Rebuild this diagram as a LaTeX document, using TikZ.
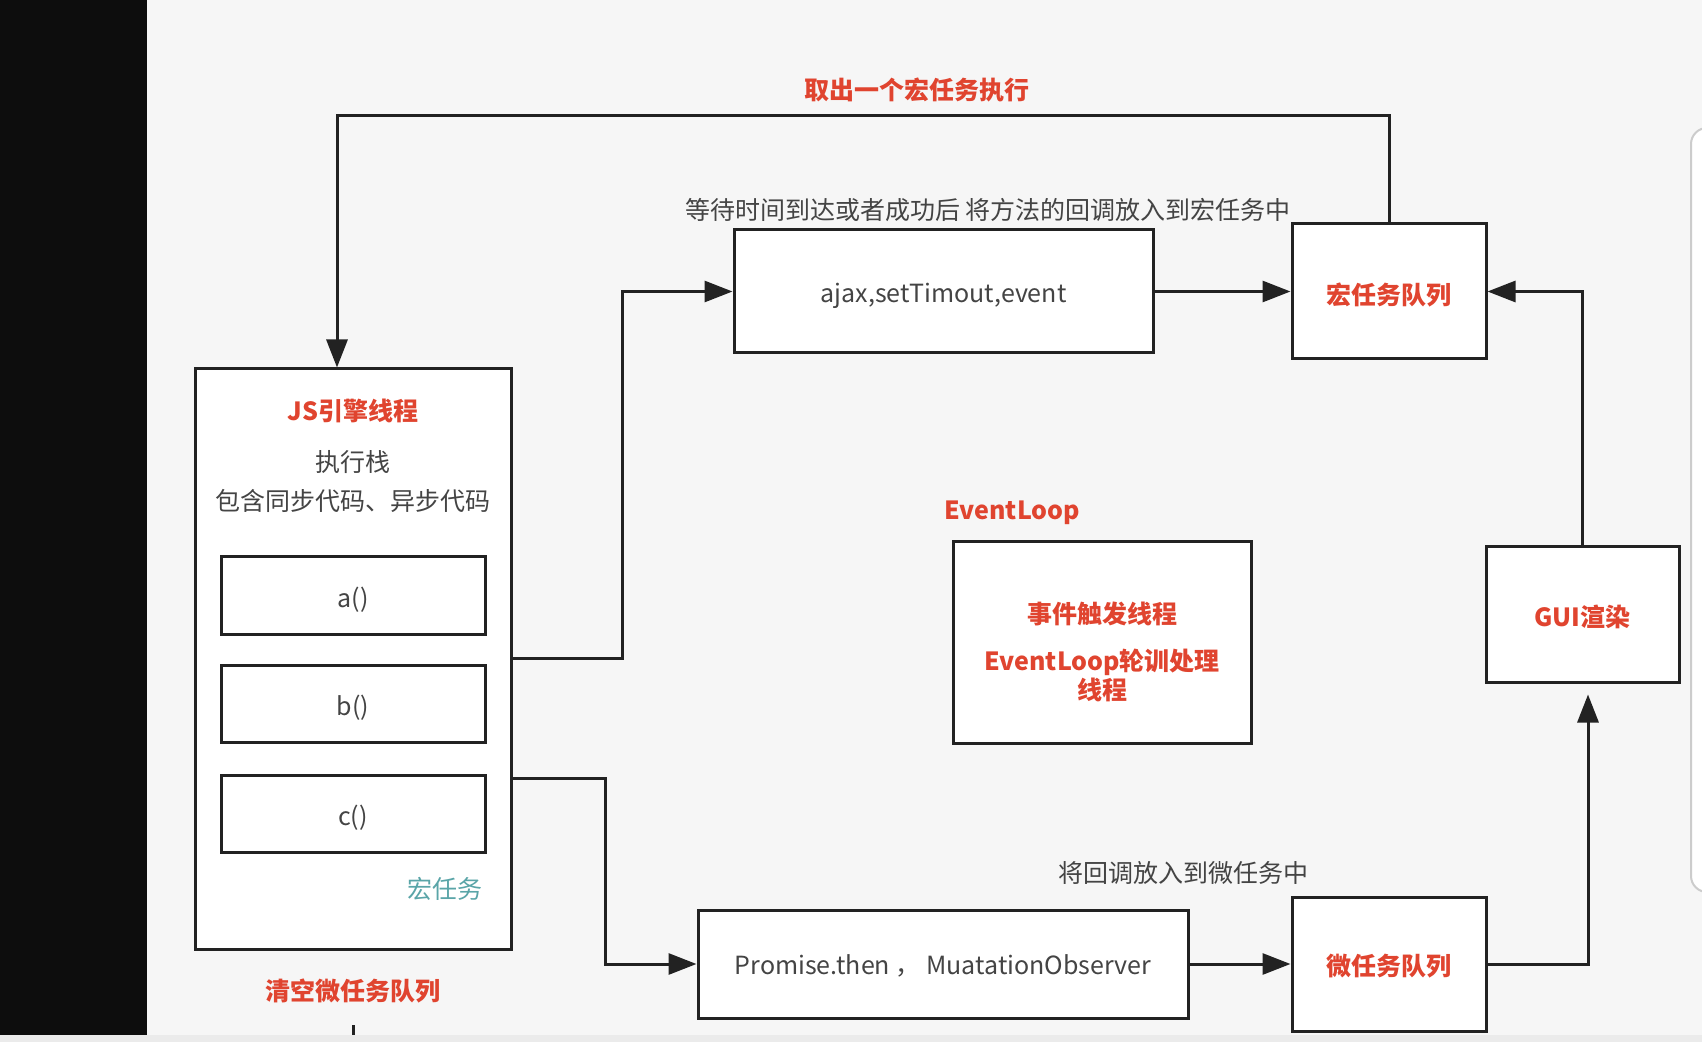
\documentclass[tikz,border=0pt]{standalone}
\usepackage{fontspec}
\setmainfont{Noto Sans CJK SC}
\usetikzlibrary{arrows.meta}
\definecolor{bgc}{HTML}{F6F6F6}
\definecolor{redt}{HTML}{E0442F}
\definecolor{grayt}{HTML}{444444}
\definecolor{tealt}{HTML}{5AA5A8}
\definecolor{linec}{HTML}{222222}
\tikzset{
  box/.style={draw=linec, line width=1.5pt, fill=white, inner sep=0pt},
  redlbl/.style={text=redt, font=\fontsize{12.5}{15}\selectfont\bfseries, inner sep=0pt, align=center},
  graylbl/.style={text=grayt, font=\fontsize{12.5}{15}\selectfont, inner sep=0pt, align=center},
  arr/.style={draw=linec, line width=1.5pt, -{Triangle[length=14pt,width=10.5pt]}},
  plain/.style={draw=linec, line width=1.5pt}
}
\begin{document}
\begin{tikzpicture}[x=0.5pt,y=-0.5pt]
\useasboundingbox (0,0) rectangle (1702,1042);
\fill[bgc] (0,0) rectangle (1702,1042);
\fill[black!95] (0,0) rectangle (147,1035);
\fill[black!8] (0,1035) rectangle (1702,1042);
\draw[black!20, fill=white, line width=1pt, rounded corners=8pt] (1703,128) -- (1691,128) -- (1691,892) -- (1703,892);

% JS engine box
\node[box, minimum width=316*0.5pt, minimum height=580*0.5pt] (js) at (353,659) {};
\node[redlbl] (jst) at (353,411) {JS引擎线程};
\node[graylbl] (jss) at (353,462) {执行栈};
\node[graylbl] (jsd) at (353,501) {包含同步代码、异步代码};
\node[box, minimum width=264*0.5pt, minimum height=77*0.5pt] (fa) at (353,595.5) {};
\node[box, minimum width=264*0.5pt, minimum height=77*0.5pt] (fb) at (353,703.5) {};
\node[box, minimum width=264*0.5pt, minimum height=77*0.5pt] (fc) at (353,813.5) {};
\node[graylbl] (fat) at ([yshift=-2pt]fa.center) {a()};
\node[graylbl] (fbt) at ([yshift=-2pt]fb.center) {b()};
\node[graylbl] (fct) at ([yshift=-2pt]fc.center) {c()};
\node[graylbl, text=tealt] (hr) at (445,889) {宏任务};
\node[redlbl] (clr) at (353,991) {清空微任务队列};

% ajax
\node[box, minimum width=419*0.5pt, minimum height=123*0.5pt] (ajax) at (943.5,291.5) {};
\node[graylbl] (ajaxt) at ([yshift=-2.3pt]ajax.center) {ajax,setTimout,event};
\node[graylbl] (wait) at (988,210) {等待时间到达或者成功后 将方法的回调放入到宏任务中};

% macro queue
\node[box, minimum width=194*0.5pt, minimum height=135*0.5pt] (mq) at (1389,291.5) {};
\node[redlbl] (mqt) at ([yshift=-2pt]mq.center) {宏任务队列};
\node[redlbl] (take) at (917,90) {取出一个宏任务执行};

% GUI
\node[box, minimum width=193*0.5pt, minimum height=135*0.5pt] (gui) at (1582.5,614.5) {};
\node[redlbl] (guit) at ([yshift=-1pt]gui.center) {GUI渲染};

% EventLoop
\node[redlbl] (elt) at (1012,513) {EventLoop};
\node[box, minimum width=298*0.5pt, minimum height=201*0.5pt] (el) at (1102,642.5) {};
\node[redlbl] (el1) at (1102,614) {事件触发线程};
\node[redlbl, font=\fontsize{12.5}{14.5}\selectfont\bfseries] (el2) at (1102,675) {EventLoop轮训处理\\线程};

% Promise
\node[box, minimum width=490*0.5pt, minimum height=108*0.5pt] (prom) at (943,964) {};
\node[graylbl] (promt) at ([yshift=-1pt]prom.center) {Promise.then ， MuatationObserver};
\node[box, minimum width=194*0.5pt, minimum height=134*0.5pt] (mi) at (1389,964) {};
\node[redlbl] (mit) at ([yshift=-1pt]mi.center) {微任务队列};
\node[graylbl] (putm) at (1183,873) {将回调放入到微任务中};

% connectors
\coordinate (t1) at (337,116);
\draw[arr] (mq.north) |- (t1) -- (js.north -| t1);

\coordinate (k1) at (622,658);
\draw[arr] (js.east |- k1) -- (k1) |- (ajax.west);

\coordinate (k2) at (605,778);
\draw[arr] (js.east |- k2) -- (k2) |- (prom.west);

\draw[arr] (ajax.east) -- (mq.west);
\draw[arr] (prom.east) -- (mi.west);

\coordinate (k3) at (1588,964);
\draw[arr, shorten >=5.5pt] (mi.east) -- (k3) -- (k3 |- gui.south);

\draw[arr] (gui.north) |- (mq.east);

\coordinate (s1) at (353,1025);
\coordinate (s2) at (353,1035);
\draw[plain] (s1) -- (s2);
\end{tikzpicture}
\end{document}
